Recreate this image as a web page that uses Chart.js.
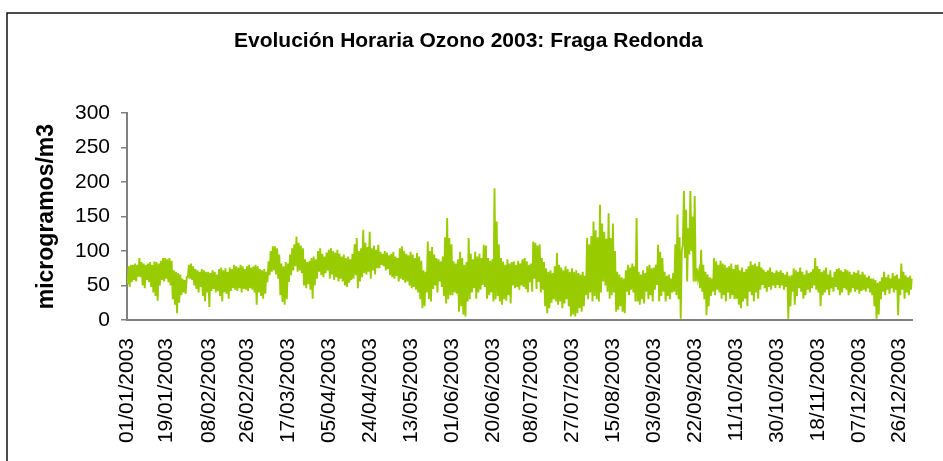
<!DOCTYPE html>
<html lang="es">

<head>
    <meta charset="UTF-8">
    <title>Evolución Horaria Ozono 2003: Fraga Redonda</title>
    <style>
        body { margin: 0; background: #fff; }
    </style>
</head>

<body>
    <script src="https://cdn.jsdelivr.net/npm/chart.js@4/dist/chart.umd.min.js"></script>

    <canvas id="chart" width="943" height="461"></canvas>

    <script>
        // etiquetas del eje X (cada 19 días aprox.)
        const tickLabels = [
            '01/01/2003', '19/01/2003', '08/02/2003', '26/02/2003', '17/03/2003',
            '05/04/2003', '24/04/2003', '13/05/2003', '01/06/2003', '20/06/2003',
            '08/07/2003', '27/07/2003', '15/08/2003', '03/09/2003', '22/09/2003',
            '11/10/2003', '30/10/2003', '18/11/2003', '07/12/2003', '26/12/2003'
        ]

        // máximo horario de cada día (µg/m3)
        const dailyMax = [
            78, 80, 80, 82, 80, 90, 84, 82, 80, 82, 84, 80, 85, 84, 82, 86, 90, 90, 88, 90, 86, 72, 70, 68, 66, 60, 58, 62, 80, 82, 78,
            74, 72, 70, 74, 72, 70, 70, 68, 72, 70, 66, 74, 76, 72, 75, 70, 76, 74, 80, 78, 76, 80, 78, 74, 78, 80, 76, 78,
            80, 78, 74, 72, 74, 70, 85, 100, 107, 107, 104, 95, 82, 78, 84, 82, 95, 104, 110, 121, 112, 108, 104, 88, 84, 86, 90, 92, 88, 100, 104,
            96, 92, 98, 102, 104, 100, 98, 102, 96, 92, 95, 90, 92, 88, 96, 110, 119, 100, 104, 131, 112, 106, 128, 104, 108, 102, 109, 99, 96, 100,
            98, 94, 96, 99, 92, 90, 104, 107, 100, 96, 94, 99, 95, 90, 97, 92, 86, 72, 70, 114, 100, 106, 95, 90, 88, 85, 92, 120, 148, 119, 110,
            85, 82, 88, 99, 90, 80, 84, 119, 96, 88, 99, 92, 96, 90, 109, 108, 90, 86, 88, 191, 143, 110, 90, 85, 80, 88, 82, 84, 85, 80,
            86, 82, 88, 90, 85, 80, 82, 114, 112, 108, 110, 90, 84, 75, 70, 72, 68, 78, 97, 80, 76, 72, 78, 74, 70, 75, 70, 72, 68, 66, 70,
            64, 119, 110, 122, 143, 130, 120, 167, 140, 128, 118, 155, 119, 140, 100, 70, 66, 62, 60, 72, 80, 76, 82, 78, 148, 70, 66, 72, 68, 78, 80,
            75, 76, 80, 109, 99, 90, 70, 64, 66, 60, 68, 110, 153, 120, 100, 187, 160, 133, 187, 150, 180, 75, 70, 102, 80, 70, 66, 62, 60, 90,
            85, 80, 86, 82, 80, 76, 78, 82, 74, 80, 80, 72, 76, 70, 74, 78, 85, 80, 82, 78, 84, 76, 73, 70, 72, 76, 70, 68, 72, 70, 72,
            68, 66, 70, 64, 65, 75, 72, 70, 76, 70, 66, 72, 68, 70, 74, 90, 78, 74, 70, 72, 76, 66, 72, 62, 70, 74, 75, 72, 70, 74,
            72, 70, 66, 70, 68, 72, 66, 70, 66, 62, 64, 60, 60, 58, 54, 56, 62, 70, 62, 66, 60, 68, 64, 66, 60, 82, 70, 65, 62, 64, 60
        ]

        // mínimo horario de cada día (µg/m3)
        const dailyMin = [
            52, 48, 55, 58, 56, 63, 62, 50, 46, 58, 55, 48, 40, 35, 28, 50, 58, 56, 60, 55, 50, 30, 22, 10, 25, 36, 40, 38, 62, 60, 58,
            50, 45, 40, 48, 35, 27, 40, 19, 42, 45, 40, 42, 35, 27, 40, 38, 31, 42, 46, 44, 42, 46, 40, 45, 44, 42, 46, 44,
            40, 22, 40, 35, 31, 38, 55, 65, 70, 72, 66, 60, 36, 26, 22, 30, 55, 65, 72, 78, 70, 72, 68, 50, 46, 52, 44, 31, 50, 60, 70,
            65, 62, 68, 72, 60, 66, 58, 62, 56, 60, 56, 50, 48, 54, 58, 60, 65, 46, 56, 62, 68, 66, 70, 60, 72, 66, 75, 75, 80, 78,
            72, 74, 65, 62, 60, 64, 56, 60, 58, 54, 56, 50, 46, 48, 44, 40, 30, 17, 20, 40, 30, 27, 45, 50, 40, 56, 48, 35, 24, 30, 36,
            36, 40, 38, 12, 20, 8, 5, 27, 30, 40, 46, 31, 40, 44, 51, 48, 31, 36, 40, 27, 30, 35, 27, 22, 30, 28, 36, 24, 50, 46,
            48, 44, 50, 48, 45, 40, 55, 41, 60, 45, 55, 40, 44, 20, 10, 17, 25, 30, 27, 22, 27, 17, 24, 30, 20, 5, 8, 5, 10, 17, 12,
            20, 36, 30, 40, 27, 35, 30, 27, 40, 56, 50, 41, 31, 36, 40, 12, 15, 20, 12, 10, 41, 36, 44, 40, 27, 27, 22, 30, 24, 41, 30,
            36, 27, 44, 51, 27, 35, 41, 27, 35, 30, 40, 41, 36, 30, 2, 109, 90, 56, 95, 100, 56, 56, 60, 46, 41, 30, 7, 20, 35, 41,
            36, 44, 40, 31, 36, 27, 40, 31, 36, 30, 31, 22, 17, 27, 31, 20, 41, 36, 27, 40, 31, 44, 51, 46, 41, 48, 44, 50, 46, 51, 46,
            50, 44, 48, 2, 20, 41, 22, 35, 46, 41, 31, 36, 44, 40, 46, 50, 44, 40, 20, 36, 40, 44, 36, 46, 41, 48, 44, 36, 40, 46,
            44, 36, 40, 46, 41, 44, 38, 42, 44, 41, 46, 40, 36, 20, 2, 8, 30, 41, 36, 44, 38, 46, 40, 44, 7, 36, 44, 31, 40, 36, 44
        ]

        // día del año a partir de 'dd/mm/aaaa'
        function dayOfYear(s) {
            const [d, m, y] = s.split('/').map(Number)
            return (Date.UTC(y, m - 1, d) - Date.UTC(y, 0, 1)) / 86400000
        }

        const tickDays = tickLabels.map(dayOfYear)

        // cada día: mínimo y máximo -> la línea sube y baja como el dato horario
        const points = []
        for (let i = 0; i < dailyMax.length; i++) {
            points.push({ x: i + 0.25, y: dailyMin[i] })
            points.push({ x: i + 0.75, y: dailyMax[i] })
        }

        // marco exterior del gráfico
        const frame = {
            id: 'frame',
            beforeDraw(chart) {
                const c = chart.ctx
                c.save()
                c.fillStyle = '#fff'
                c.fillRect(0, 0, chart.width, chart.height)
                c.strokeStyle = '#111'
                c.lineWidth = 1.5
                c.strokeRect(7, 13, 1000, 1000)
                c.restore()
            }
        }

        const font = "'Liberation Sans', Arial, sans-serif"

        new Chart(document.getElementById('chart'), {
            type: 'line',
            data: {
                datasets: [{
                    label: 'Ozono',
                    data: points,
                    borderColor: '#99cc00',
                    borderWidth: 1.9,
                    pointRadius: 0,
                    tension: 0,
                    fill: false
                }]
            },
            options: {
                responsive: false,
                animation: false,
                layout: { padding: { top: 0, right: 6, bottom: 0, left: 0 } },
                plugins: {
                    legend: { display: false },
                    tooltip: { enabled: false },
                    title: {
                        display: true,
                        text: 'Evolución Horaria Ozono 2003: Fraga Redonda',
                        color: '#000',
                        font: { family: font, size: 21, weight: 'bold' },
                        padding: { top: 29, bottom: 59 }
                    }
                },
                scales: {
                    x: {
                        type: 'linear',
                        min: 0,
                        max: 365,
                        afterFit(scale) { scale.height = 141 },
                        afterBuildTicks(scale) {
                            scale.ticks = tickDays.map(v => ({ value: v }))
                        },
                        grid: { display: false, drawTicks: false },
                        border: { color: '#808080', width: 2 },
                        ticks: {
                            autoSkip: false,
                            minRotation: 90,
                            maxRotation: 90,
                            padding: 18,
                            color: '#000',
                            font: { family: font, size: 21 },
                            callback: (v) => tickLabels[tickDays.indexOf(v)]
                        }
                    },
                    y: {
                        min: 0,
                        max: 300,
                        afterFit(scale) { scale.width = 127 },
                        grid: { drawOnChartArea: false, drawTicks: true, tickLength: 6, color: '#808080', lineWidth: 1.5 },
                        border: { color: '#808080', width: 2 },
                        ticks: {
                            stepSize: 50,
                            padding: 11,
                            color: '#000',
                            font: { family: font, size: 21 }
                        },
                        title: {
                            display: true,
                            text: 'microgramos/m3',
                            color: '#000',
                            font: { family: font, size: 23, weight: 'bold' },
                            padding: { top: 33, bottom: 0 }
                        }
                    }
                }
            },
            plugins: [frame]
        })
    </script>

</body>

</html>
